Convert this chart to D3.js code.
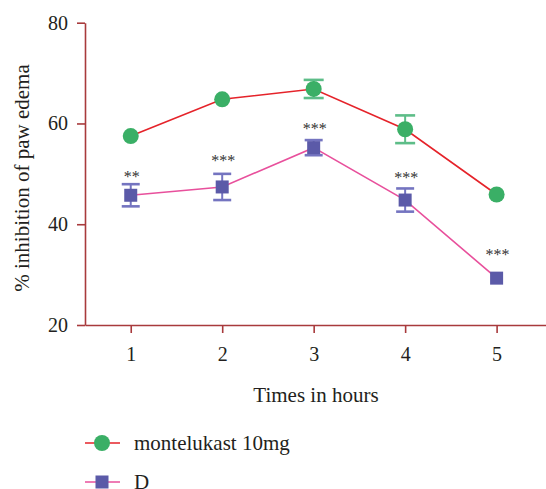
<!DOCTYPE html>
<html lang="en">
<head>
  <meta charset="utf-8">
  <title>Paw edema</title>
  <script src="https://d3js.org/d3.v7.min.js"></script>
  <style>
    body { margin: 0; background: #fff; }
  </style>
</head>
<body>

<svg width="546" height="489"></svg>

<script>
  // Data
  const hours = [1, 2, 3, 4, 5];
  const monteMean = [57.5, 64.8, 66.85, 58.85, 45.9];
  const monteErr = [0, 0, 1.8, 2.75, 0];
  const dMean = [45.75, 47.4, 55.2, 44.8, 29.3];
  const dErr = [2.2, 2.6, 1.5, 2.3, 0];
  const stars = ["**", "***", "***", "***", "***"];
  const starLevel = [50.25, 53.3, 59.6, 50.0, 34.6];
  const yTicks = [20, 40, 60, 80];

  const svg = d3.select("svg");
  const axisColor = "#a83a3c";

  const x = d3.scaleLinear().domain([0.5, 5.54]).range([85, 546]);
  const y = d3.scaleLinear().domain([20, 80]).range([325, 22.7]);

  // Axes
  const yAxis = svg.append("g")
    .attr("transform", "translate(85,0)")
    .call(d3.axisLeft(y).tickValues(yTicks).tickFormat(d3.format("d"))
      .tickSize(8).tickPadding(9).tickSizeOuter(0));
  const xAxis = svg.append("g")
    .attr("transform", "translate(0,325)")
    .call(d3.axisBottom(x).tickValues(hours).tickFormat(d3.format("d"))
      .tickSize(8).tickPadding(14).tickSizeOuter(0));

  [xAxis, yAxis].forEach(g => {
    g.selectAll("path, line").attr("stroke", axisColor).attr("stroke-width", 1.6);
    g.selectAll("text").style("font-size", "20px").attr("fill", "#231f20");
  });

  svg.append("text")
    .attr("x", 316).attr("y", 402)
    .attr("text-anchor", "middle")
    .style("font-size", "21px")
    .text("Times in hours");

  svg.append("text")
    .attr("transform", "translate(29,178) rotate(-90)")
    .attr("text-anchor", "middle")
    .style("font-size", "21px")
    .text("% inhibition of paw edema");

  const line = d3.line().x((d, i) => x(hours[i])).y(d => y(d));

  // montelukast series
  svg.append("path").datum(monteMean).attr("d", line)
    .attr("fill", "none").attr("stroke", "#e5232a").attr("stroke-width", 1.6);

  // D series line
  svg.append("path").datum(dMean).attr("d", line)
    .attr("fill", "none").attr("stroke", "#e8509c").attr("stroke-width", 1.6);

  // Error bars
  function errorBars(mean, err, color, cap) {
    hours.forEach((h, i) => {
      if (!err[i]) return;
      const g = svg.append("g").attr("stroke", color).attr("stroke-width", 2);
      g.append("line").attr("x1", x(h)).attr("x2", x(h))
        .attr("y1", y(mean[i] + err[i])).attr("y2", y(mean[i] - err[i]));
      [mean[i] + err[i], mean[i] - err[i]].forEach(v => {
        g.append("line").attr("x1", x(h) - cap / 2).attr("x2", x(h) + cap / 2)
          .attr("y1", y(v)).attr("y2", y(v)).attr("stroke-width", 2.6);
      });
    });
  }
  errorBars(monteMean, monteErr, "#5dbd88", 20);
  errorBars(dMean, dErr, "#7474c0", 18);

  // Markers
  svg.selectAll("circle.monte").data(monteMean).enter().append("circle")
    .attr("cx", (d, i) => x(hours[i])).attr("cy", d => y(d))
    .attr("r", 8).attr("fill", "#3aaf66");

  svg.selectAll("rect.dsq").data(dMean).enter().append("rect")
    .attr("x", (d, i) => x(hours[i]) - 6.5).attr("y", d => y(d) - 6.5)
    .attr("width", 13).attr("height", 13).attr("fill", "#5b5aa8");

  // Significance stars
  svg.selectAll("text.star").data(stars).enter().append("text")
    .attr("class", "star")
    .attr("x", (d, i) => x(hours[i]) + 1)
    .attr("y", (d, i) => y(starLevel[i]) + 9)
    .attr("text-anchor", "middle")
    .style("font-size", "16px")
    .attr("fill", "#333")
    .text(d => d);

  // Legend
  const legend = svg.append("g");
  legend.append("line").attr("x1", 85).attr("x2", 120).attr("y1", 443).attr("y2", 443)
    .attr("stroke", "#e5232a").attr("stroke-width", 1.6);
  legend.append("circle").attr("cx", 102).attr("cy", 443).attr("r", 8).attr("fill", "#3aaf66");
  legend.append("text").attr("x", 134).attr("y", 450).style("font-size", "21px").text("montelukast 10mg");

  legend.append("line").attr("x1", 85).attr("x2", 120).attr("y1", 482).attr("y2", 482)
    .attr("stroke", "#e8509c").attr("stroke-width", 1.6);
  legend.append("rect").attr("x", 95.5).attr("y", 475.5).attr("width", 13).attr("height", 13).attr("fill", "#5b5aa8");
  legend.append("text").attr("x", 134).attr("y", 489).style("font-size", "21px").text("D");

  // serif everywhere, set inline so nothing overrides it
  svg.selectAll("text")
    .style("font-family", '"Liberation Serif", "Times New Roman", serif')
    .filter(function () { return !this.getAttribute("fill"); })
    .attr("fill", "#231f20");
</script>
</body>
</html>
